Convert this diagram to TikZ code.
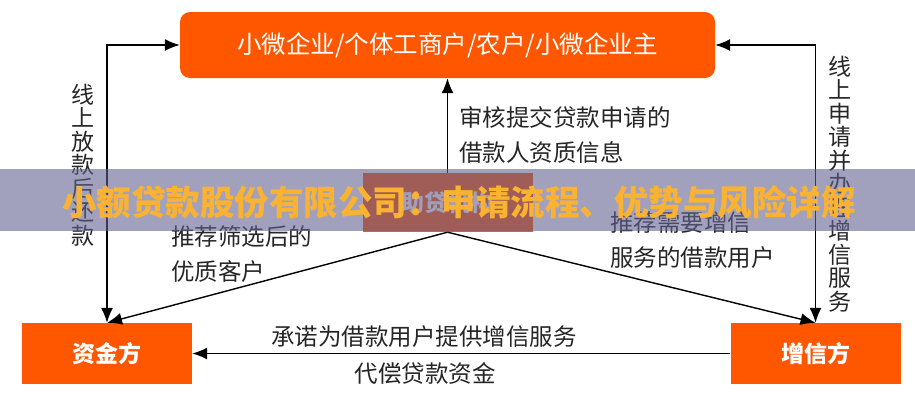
\documentclass[tikz,border=0pt]{standalone}
\usepackage{fontspec}
\setmainfont{Noto Sans CJK SC}
\usetikzlibrary{positioning,arrows.meta}
\definecolor{boxorange}{RGB}{255,87,0}
\definecolor{bandgray}{RGB}{98,98,145}
\definecolor{titleyellow}{RGB}{250,178,50}

\begin{document}
\begin{tikzpicture}[x=1pt,y=-1pt]
        \tikzstyle{every node}=[inner sep=0pt]
        \tikzstyle{box}=[fill=boxorange, text=white, minimum width=170pt, minimum height=61pt, font=\fontsize{23}{23}\selectfont\bfseries]
        \tikzstyle{lbl}=[anchor=west, align=left, text=black!85, font=\fontsize{23.5}{35}\selectfont]
        \tikzstyle{vlbl}=[align=center, text=black!85, font=\fontsize{23}{23.5}\selectfont]
        \tikzstyle{arr}=[line width=1.4pt, -{Latex[length=15pt,width=12pt]}]
        \tikzstyle{dblarr}=[line width=1.4pt, {Latex[length=15pt,width=12pt]}-{Latex[length=15pt,width=12pt]}]

        \useasboundingbox (0,0) rectangle (915,400);

        % boxes
        \node[box, rounded corners=10pt, minimum width=535pt, minimum height=66pt, font=\fontsize{24.5}{24.5}\selectfont] (top) at (447.5,45) {小微企业/个体工商户/农户/小微企业主};
        \node[box, minimum height=59pt] (agent)  at (447.5,202.5) {助贷机构};
        \node[box] (fund)   at (107,353.5) {资金方};
        \node[box] (credit) at (815.5,353.5) {增信方};

        % connectors
        \draw[dblarr] (fund.north) |- (top.west);
        \draw[dblarr] (top.east) -| (credit.north);
        \draw[arr] (agent.north) -- (top.south);
        \draw[arr] (agent.south) -- (fund.north);
        \draw[arr] (agent.south) -- (credit.north);
        \draw[arr] (credit.west) -- (fund.east);

        % labels
        \node[vlbl] (loan)   at (83,165)  {线\\上\\放\\款\\后\\还\\款};
        \node[vlbl] (apply)  at (840,184) {线\\上\\申\\请\\并\\办\\理\\增\\信\\服\\务};
        \node[lbl] (check)   at (459,134.5) {审核提交贷款申请的\\借款人资质信息};
        \node[lbl] (pick)    at (171,254.5) {推荐筛选后的\\优质客户};
        \node[lbl] (push)    at (610,240.5) {推荐需要增信\\服务的借款用户};
        \node[lbl, anchor=center] (promise) at (424,337) {承诺为借款用户提供增信服务};
        \node[lbl, anchor=center] (repay)   at (425,373) {代偿贷款资金};

        % title band
        \fill[bandgray, opacity=0.6] (0,169) rectangle (915,231);
        \node[text=titleyellow, font=\fontsize{34.5}{34.5}\selectfont\bfseries] (title) at (459,202) {小额贷款股份有限公司：申请流程、优势与风险详解};
\end{tikzpicture}
\end{document}
